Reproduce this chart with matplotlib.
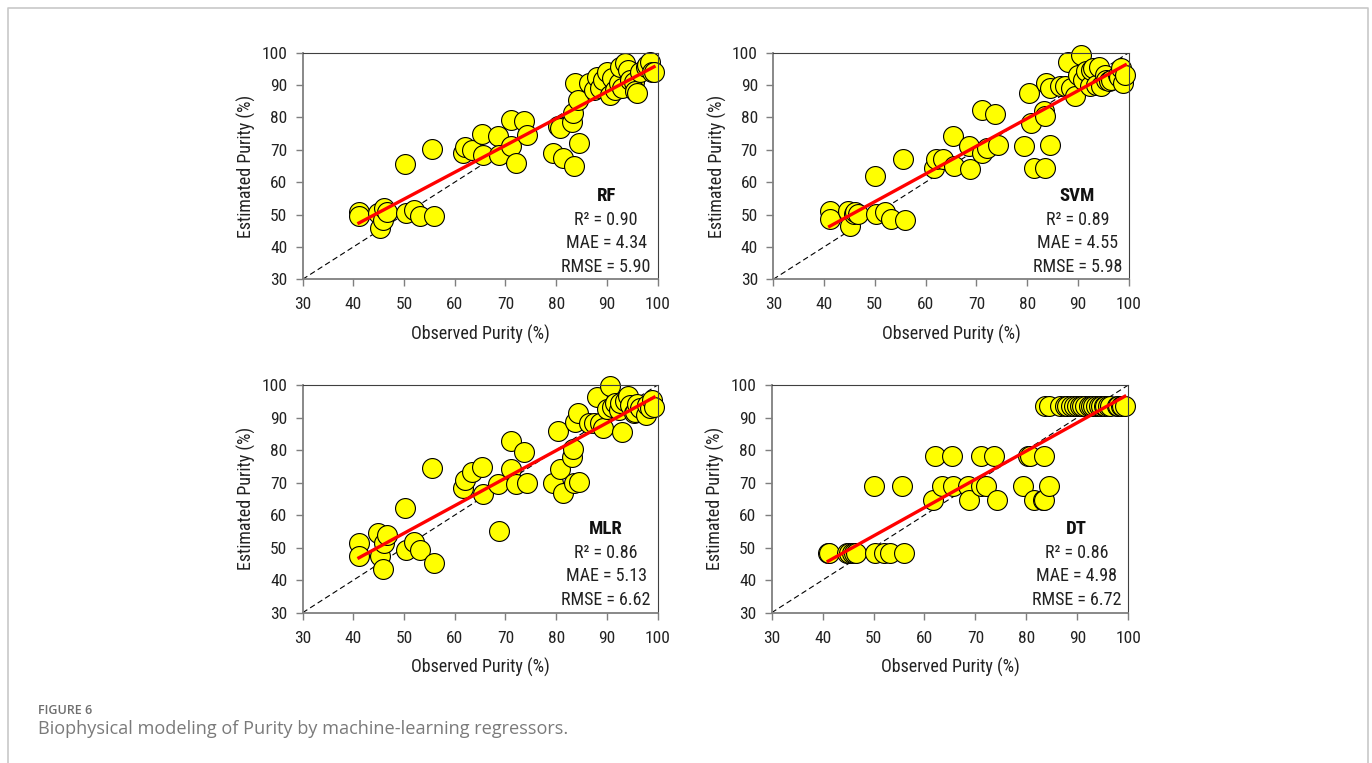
import numpy as np
import matplotlib
matplotlib.use("Agg")
from matplotlib import pyplot as plt
from matplotlib.lines import Line2D

# observed purity (%), shared by all four models
observed = [41.1, 41.2, 44.8, 45.2, 45.8, 46.1, 46.6, 50.3, 52.0, 53.2, 55.9,
            50.1, 55.6,
            61.7, 62.0, 63.4, 65.3, 65.5, 68.5, 68.7, 71.0, 71.0, 72.0, 73.7, 74.3,
            79.4, 80.3, 80.7, 81.4, 83.2, 83.4, 83.5, 84.5, 83.7, 84.4,
            86.5, 87.5, 88.0, 88.7, 89.3, 90.0, 90.6, 91.0, 91.5, 92.3, 92.6, 93.0,
            93.6, 94.2, 94.6, 95.3, 95.5, 96.0, 96.5, 97.8, 98.0, 98.5, 98.8, 99.3]

est_rf = [50.9, 49.4, 50.4, 45.7, 48.3, 51.9, 50.9, 50.4, 51.4, 49.6, 49.4,
          65.6, 70.1,
          69.1, 71.0, 69.9, 74.9, 68.4, 74.4, 68.4, 79.2, 71.2, 65.8, 79.0, 74.6,
          68.9, 77.4, 76.8, 67.4, 78.7, 81.3, 65.0, 72.2, 90.5, 85.4,
          90.5, 88.5, 92.6, 89.0, 91.6, 94.1, 86.9, 92.1, 88.5, 90.5, 95.7, 89.0,
          96.7, 94.7, 91.6, 91.0, 88.0, 87.4, 94.1, 95.7, 96.2, 97.2, 94.1, 94.1]

est_svm = [51.2, 48.5, 51.2, 46.6, 50.2, 50.7, 50.2, 50.2, 50.7, 48.7, 48.2,
           61.9, 67.2,
           64.5, 67.0, 67.0, 74.2, 65.0, 71.3, 64.0, 82.4, 69.1, 70.6, 81.2, 71.6,
           71.3, 87.5, 78.3, 64.5, 81.9, 80.3, 64.5, 71.6, 90.6, 89.0,
           89.6, 89.6, 97.2, 89.0, 86.5, 93.1, 99.3, 91.6, 94.2, 89.6, 94.7, 95.2,
           90.1, 95.7, 89.6, 93.1, 91.6, 91.1, 91.6, 93.1, 92.6, 95.2, 90.6, 93.1]

est_mlr = [51.5, 47.4, 54.6, 47.4, 43.3, 51.3, 53.9, 49.3, 51.8, 49.3, 45.4,
           62.3, 74.6,
           68.2, 70.7, 73.3, 74.9, 66.4, 69.5, 55.1, 82.8, 74.1, 69.5, 79.5, 69.8,
           69.8, 85.9, 74.2, 66.7, 78.0, 80.2, 69.8, 70.3, 88.7, 91.3,
           88.2, 88.2, 96.4, 88.2, 86.7, 92.5, 99.8, 93.3, 94.6, 92.3, 94.6, 85.5,
           95.1, 96.6, 93.9, 91.3, 91.8, 94.2, 92.8, 90.8, 93.8, 92.8, 95.4, 93.3]

est_dt = [48.4, 48.4, 48.4, 48.4, 48.4, 48.4, 48.4, 48.4, 48.4, 48.4, 48.4,
          69.0, 69.0,
          64.6, 78.2, 69.0, 78.2, 69.0, 69.0, 64.6, 78.2, 69.0, 69.0, 78.2, 64.6,
          69.0, 78.2, 78.2, 64.6, 64.6, 78.2, 64.6, 69.0, 93.5, 93.5,
          93.5, 93.5, 93.5, 93.5, 93.5, 93.5, 93.5, 93.5, 93.5, 93.5, 93.5, 93.5,
          93.5, 93.5, 93.5, 93.5, 93.5, 93.5, 93.5, 93.5, 93.5, 93.5, 93.5, 93.5]

models = ["RF", "SVM", "MLR", "DT"]
estimates = [est_rf, est_svm, est_mlr, est_dt]
r2 = ["0.90", "0.89", "0.86", "0.86"]
mae = ["4.34", "4.55", "5.13", "4.98"]
rmse = ["5.90", "5.98", "6.62", "6.72"]

ticks = [30, 40, 50, 60, 70, 80, 90, 100]

# narrow face like the original, whichever one is installed
plt.rcParams['font.family'] = ['Roboto Condensed', 'DejaVu Sans Condensed',
                               'Liberation Sans Narrow', 'Liberation Sans']

fig = plt.figure(figsize=(13.72, 7.63), dpi=100)

# axes boxes in figure fractions
boxes = [(0.2206, 0.634, 0.2587, 0.297),
         (0.5636, 0.634, 0.2592, 0.297),
         (0.2206, 0.197, 0.2587, 0.2984),
         (0.5624, 0.197, 0.2600, 0.2984)]

x = np.array(observed)
for k in range(4):
    ax = fig.add_axes(boxes[k])
    y = np.array(estimates[k])

    ax.plot([30, 100], [30, 100], color="black", lw=0.8, dashes=(5, 3), zorder=1)
    ax.scatter(x, y, s=205, facecolor="#ffff00", edgecolor="black",
               linewidth=0.8, zorder=2, clip_on=False)

    slope, icpt = np.polyfit(x, y, 1)
    xl = np.array([x.min(), x.max()])
    ax.plot(xl, icpt + slope * xl, color="#ff0000", lw=2.4, zorder=3)

    ax.set_xlim(30, 100)
    ax.set_ylim(30, 100)
    ax.set_xticks(ticks)
    ax.set_yticks(ticks)
    ax.tick_params(direction="out", length=5, width=1.0, color="#7f7f7f",
                   labelsize=12.5, labelcolor="#222222")
    ax.tick_params(axis="x", pad=8)
    ax.tick_params(axis="y", pad=6)
    for s in ["left", "bottom"]:
        ax.spines[s].set_color("#7f7f7f")
        ax.spines[s].set_linewidth(1.3)
    for s in ["top", "right"]:
        ax.spines[s].set_color("#404040")
        ax.spines[s].set_linewidth(0.8)

    ax.set_xlabel("Observed Purity (%)", fontsize=13, color="#222222", labelpad=9)
    ax.set_ylabel("Estimated Purity (%)", fontsize=13, color="#222222", labelpad=4)

    tx = 0.855
    ax.text(tx, 0.368, models[k], transform=ax.transAxes, ha="center", va="center",
            fontsize=13.5, fontweight="bold", color="#111111")
    ax.text(tx, 0.262, "R² = " + r2[k], transform=ax.transAxes, ha="center",
            va="center", fontsize=13, color="#222222")
    ax.text(tx, 0.159, "MAE = " + mae[k], transform=ax.transAxes, ha="center",
            va="center", fontsize=13, color="#222222")
    ax.text(tx, 0.054, "RMSE = " + rmse[k], transform=ax.transAxes, ha="center",
            va="center", fontsize=13, color="#222222")

# page frame and caption
frame_x = [8 / 1372, 8 / 1372, 1368 / 1372, 1368 / 1372]
frame_y = [0.0, 1 - 8 / 763, 1 - 8 / 763, 0.0]
fig.add_artist(Line2D(frame_x, frame_y, transform=fig.transFigure,
                      color="#c8c8c8", lw=1.2))

fig.text(38 / 1372, 1 - 710 / 763, "FIGURE 6", fontsize=9, color="#6e6e6e",
         family=["Open Sans", "DejaVu Sans"], fontweight="semibold", va="center")
fig.text(38 / 1372, 1 - 729 / 763,
         "Biophysical modeling of Purity by machine-learning regressors.",
         fontsize=13.1, color="#7a7a7a", family=["Open Sans", "DejaVu Sans"],
         va="center")

fig.savefig("out.png", dpi=100)
